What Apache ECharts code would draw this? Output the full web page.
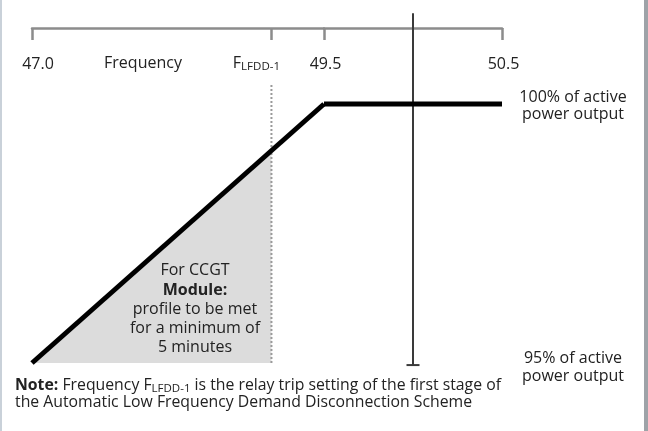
<!DOCTYPE html>
<html><head><meta charset="utf-8">
<script src="https://cdn.jsdelivr.net/npm/echarts@6/dist/echarts.min.js"></script>
<style>html,body{margin:0;padding:0;background:#fff}#c{width:648px;height:431px}</style>
</head><body><div id="c"></div>
<script>
// ---- data ----
const lowFreq = [47.0, 49.5];            // Hz, ramp section of the schematic axis
const highFreq = [49.5, 50.5];           // Hz, plateau section
const rampPower = [95, 100];             // % of active power output
const plateauPower = [100, 100];
const fLfdd1 = 49.05;                    // F_LFDD-1 (schematic position)
const fLfdd1Power = 99.1;
const nominalFreq = 50.0;
const fLfddLineRange = [95, 100.37];
const nominalLineRange = [94.96, 101.75];
const lowTickValues = [47.0, 49.05, 49.5];
const lowTickLabels = ['47.0', 'F_LFDD-1', '49.5'];
const highTickValues = [50.5];
const highTickLabels = ['50.5'];
const powerRange = [95, 100];

const FONT = '"Open Sans"';
const FS = 16;
const chart = echarts.init(document.getElementById('c'), null, {renderer: 'canvas'});

function labelFmt(values, labels) {
  return function (v) {
    let i = values.findIndex(x => Math.abs(x - v) < 1e-6);
    if (i < 0) return '';
    const t = labels[i];
    if (t === 'F_LFDD-1') return '{f|F}{s|LFDD-1}';
    if (i === 0 && values === lowTickValues) return '{l|' + t + '}';
    return '{m|' + t + '}';
  };
}
const axisCommon = {
  type: 'value', position: 'top', offset: 76,
  axisLine: {show: true, lineStyle: {color: '#8c8c8c', width: 2.5}},
  splitLine: {show: false}
};
const labelRich = {
  f: {fontSize: FS, fontFamily: FONT, color: '#222'},
  s: {fontSize: 11.5, fontFamily: FONT, color: '#222', padding: [7, 30, 0, 0]},
  l: {fontSize: FS, fontFamily: FONT, color: '#222', padding: [2, 0, 0, 12]},
  m: {fontSize: FS, fontFamily: FONT, color: '#222', padding: [2, 0, 0, 3]}
};

chart.setOption({
  animation: false,
  backgroundColor: '#fff',
  grid: [
    {left: 32, top: 104, width: 292, height: 259},
    {left: 324, top: 104, width: 178, height: 259}
  ],
  xAxis: [
    Object.assign({}, axisCommon, {
      gridIndex: 0, min: lowFreq[0], max: lowFreq[1],
      axisTick: {show: true, inside: true, length: 12, customValues: lowTickValues,
                 lineStyle: {color: '#8c8c8c', width: 2.5}},
      axisLabel: {show: true, inside: true, margin: 26, customValues: lowTickValues,
                  formatter: labelFmt(lowTickValues, lowTickLabels),
                  color: '#222', fontSize: FS, fontFamily: FONT, rich: labelRich}
    }),
    Object.assign({}, axisCommon, {
      gridIndex: 1, min: highFreq[0], max: highFreq[1],
      axisTick: {show: true, inside: true, length: 12, customValues: highTickValues,
                 lineStyle: {color: '#8c8c8c', width: 2.5}},
      axisLabel: {show: true, inside: true, margin: 26, customValues: highTickValues,
                  formatter: labelFmt(highTickValues, highTickLabels),
                  color: '#222', fontSize: FS, fontFamily: FONT, rich: labelRich}
    })
  ],
  yAxis: [
    {gridIndex: 0, type: 'value', min: powerRange[0], max: powerRange[1], show: false},
    {gridIndex: 1, type: 'value', min: powerRange[0], max: powerRange[1], show: false}
  ],
  series: [
    {
      type: 'line', xAxisIndex: 0, yAxisIndex: 0, symbol: 'none', clip: false, z: 1,
      data: [[lowFreq[0], rampPower[0]], [fLfdd1, fLfdd1Power]],
      lineStyle: {width: 0},
      areaStyle: {color: '#dcdcdc', opacity: 1, origin: 'start'}
    },
    {
      type: 'line', xAxisIndex: 0, yAxisIndex: 0, symbol: 'none', clip: false, z: 2,
      data: [[fLfdd1, fLfddLineRange[0]], [fLfdd1, fLfddLineRange[1]]],
      lineStyle: {color: '#9a9a9a', width: 2, type: [2, 2]}
    },
    {
      type: 'line', xAxisIndex: 1, yAxisIndex: 1, symbol: 'none', clip: false, z: 2,
      data: [
        {value: [nominalFreq, nominalLineRange[0]], symbol: 'rect', symbolSize: [13, 2]},
        {value: [nominalFreq, nominalLineRange[1]]}
      ],
      showSymbol: true,
      itemStyle: {color: '#3a3a3a'},
      lineStyle: {color: '#3a3a3a', width: 2}
    },
    {
      type: 'line', xAxisIndex: 0, yAxisIndex: 0, symbol: 'none', clip: false, z: 3,
      data: lowFreq.map((f, i) => [f, rampPower[i]]),
      lineStyle: {color: '#000', width: 5, join: 'miter'}
    },
    {
      type: 'line', xAxisIndex: 1, yAxisIndex: 1, symbol: 'none', clip: false, z: 3,
      data: highFreq.map((f, i) => [f, plateauPower[i]]),
      lineStyle: {color: '#000', width: 5}
    }
  ],
  graphic: [
    {type: 'rect', z: 10, shape: {x: 0, y: 0, width: 2, height: 431}, style: {fill: '#c9d1d9'}, silent: true},
    {type: 'rect', z: 10, shape: {x: 644, y: 0, width: 4, height: 431}, style: {fill: '#9ea3a8'}, silent: true},
    {type: 'text', z: 10, x: 143, y: 63, style: {text: 'Frequency', font: FS + 'px ' + FONT, fill: '#222', align: 'center', verticalAlign: 'middle'}},
    {type: 'text', z: 10, x: 195, y: 259, style: {
      text: '{h|For CCGT}\n{b|Module:}\n{n|profile to be met}\n{n|for a minimum of}\n{n|5 minutes}',
      align: 'center', verticalAlign: 'top',
      rich: {
        h: {fontSize: FS, fontFamily: FONT, fill: '#222', lineHeight: 22},
        n: {fontSize: FS, fontFamily: FONT, fill: '#222', lineHeight: 19},
        b: {fontSize: FS, fontFamily: FONT, fill: '#222', fontWeight: 'bold', lineHeight: 19}
      }}},
    {type: 'text', z: 10, x: 573, y: 89, style: {
      text: '100% of active\npower output', font: FS + 'px ' + FONT, fill: '#222',
      align: 'center', verticalAlign: 'top', lineHeight: 17}},
    {type: 'text', z: 10, x: 573, y: 349, style: {
      text: '95% of active\npower output', font: FS + 'px ' + FONT, fill: '#222',
      align: 'center', verticalAlign: 'top', lineHeight: 18}},
    {type: 'text', z: 10, x: 15, y: 377, style: {
      text: '{b|Note:}{n| Frequency F}{s|LFDD-1}{n| is the relay trip setting of the first stage of}\n{n|the Automatic Low Frequency Demand Disconnection Scheme}',
      align: 'left', verticalAlign: 'top',
      rich: {
        n: {fontSize: 15.8, fontFamily: FONT, fill: '#222', lineHeight: 17},
        b: {fontSize: 15.8, fontFamily: FONT, fill: '#222', fontWeight: 'bold', lineHeight: 17},
        s: {fontSize: 11.5, fontFamily: FONT, fill: '#222', lineHeight: 17, padding: [7, 0, 0, 0]}
      }}}
  ]
});
</script></body></html>
